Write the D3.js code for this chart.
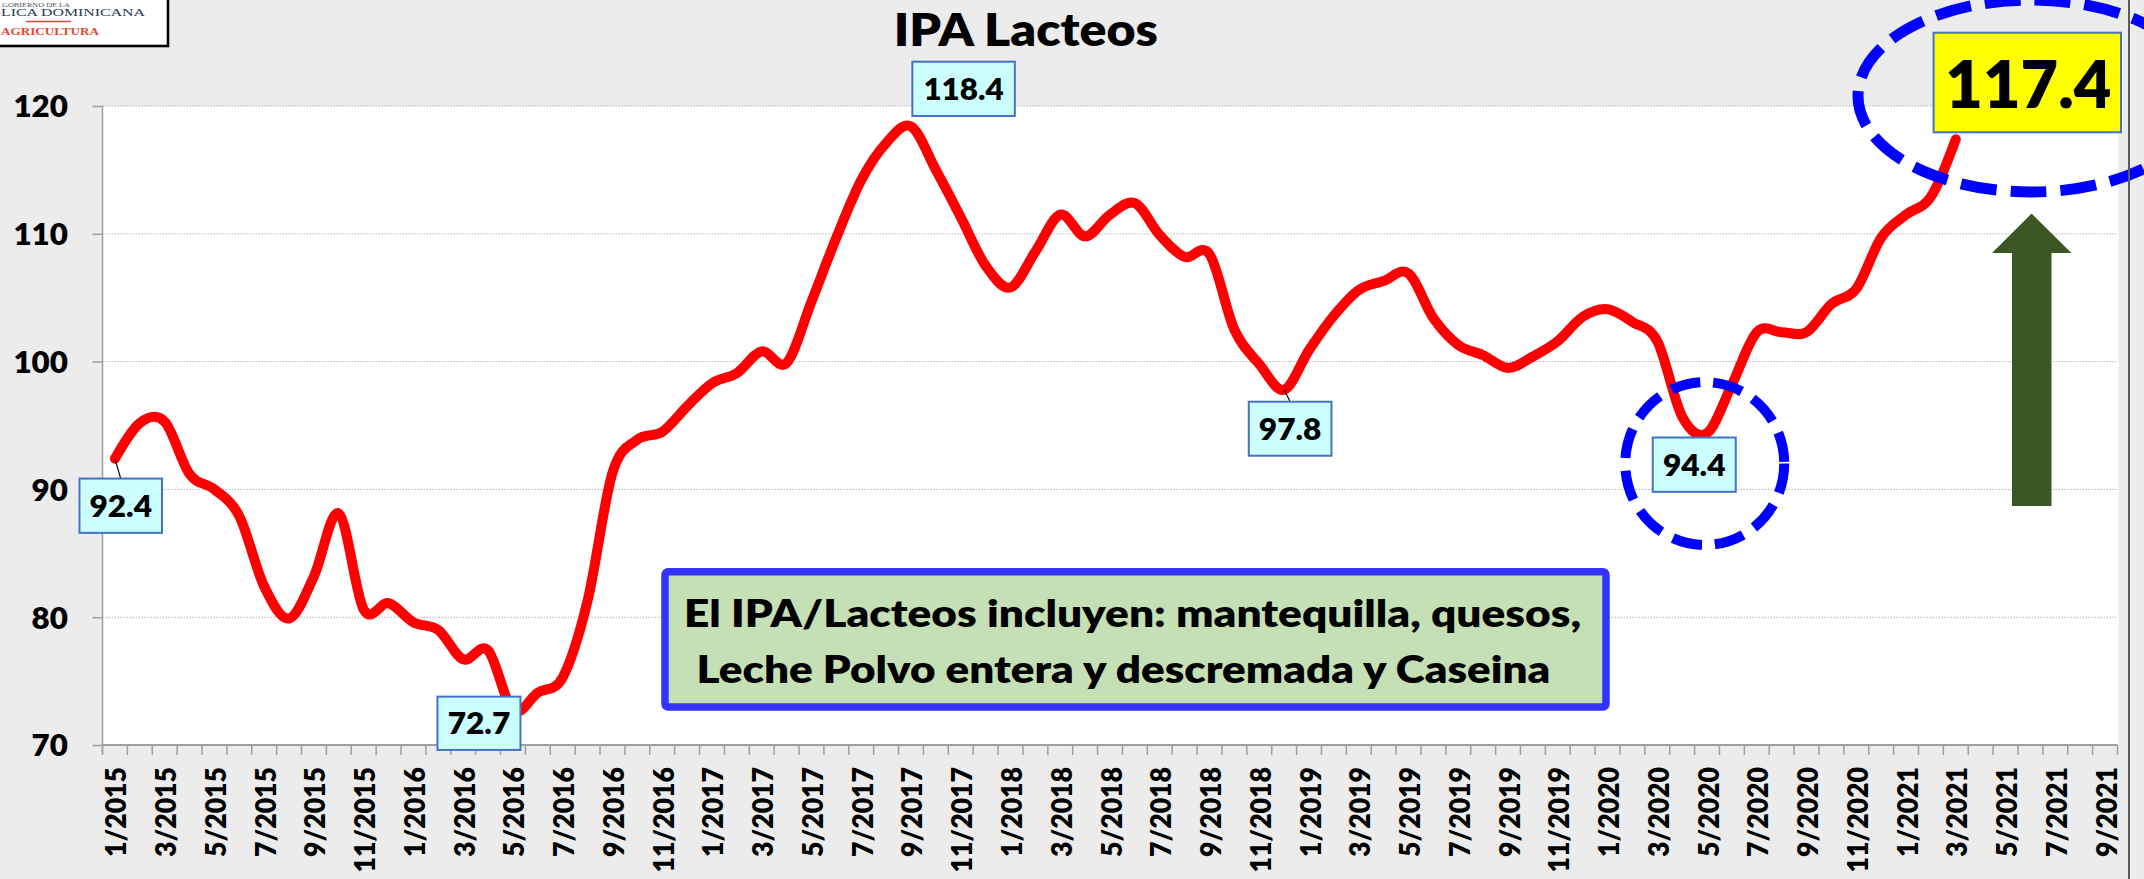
<!DOCTYPE html>
<html><head><meta charset="utf-8">
<script src="https://cdn.jsdelivr.net/npm/d3@7/dist/d3.min.js"></script>
<style>html,body{margin:0;padding:0;background:#ECECEC;overflow:hidden}</style>
</head><body><svg id="c" width="2144" height="879"></svg>
<script>
// ---------------- DATA ----------------
const categories = [
 "1/2015","2/2015","3/2015","4/2015","5/2015","6/2015","7/2015","8/2015","9/2015","10/2015","11/2015","12/2015",
 "1/2016","2/2016","3/2016","4/2016","5/2016","6/2016","7/2016","8/2016","9/2016","10/2016","11/2016","12/2016",
 "1/2017","2/2017","3/2017","4/2017","5/2017","6/2017","7/2017","8/2017","9/2017","10/2017","11/2017","12/2017",
 "1/2018","2/2018","3/2018","4/2018","5/2018","6/2018","7/2018","8/2018","9/2018","10/2018","11/2018","12/2018",
 "1/2019","2/2019","3/2019","4/2019","5/2019","6/2019","7/2019","8/2019","9/2019","10/2019","11/2019","12/2019",
 "1/2020","2/2020","3/2020","4/2020","5/2020","6/2020","7/2020","8/2020","9/2020","10/2020","11/2020","12/2020",
 "1/2021","2/2021","3/2021","4/2021","5/2021","6/2021","7/2021","8/2021","9/2021"
];
const tickLabels = [
 "1/2015","3/2015","5/2015","7/2015","9/2015","11/2015",
 "1/2016","3/2016","5/2016","7/2016","9/2016","11/2016",
 "1/2017","3/2017","5/2017","7/2017","9/2017","11/2017",
 "1/2018","3/2018","5/2018","7/2018","9/2018","11/2018",
 "1/2019","3/2019","5/2019","7/2019","9/2019","11/2019",
 "1/2020","3/2020","5/2020","7/2020","9/2020","11/2020",
 "1/2021","3/2021","5/2021","7/2021","9/2021"
];
const ipaLacteos = [
 92.4, 95.2, 95.3, 91.2, 90.0, 87.9, 82.4, 79.9, 83.2, 88.1, 80.6, 81.1,
 79.6, 79.0, 76.7, 77.4, 72.7, 74.1, 75.3, 81.3, 91.3, 93.9, 94.5, 96.5,
 98.3, 99.1, 100.8, 99.9, 104.7, 109.7, 114.2, 117.1, 118.4, 115.0, 111.3, 107.5,
 105.8, 108.6, 111.5, 109.8, 111.5, 112.4, 109.9, 108.2, 108.4, 102.5, 99.8, 97.8,
 100.9, 103.6, 105.6, 106.3, 106.9, 103.4, 101.3, 100.5, 99.5, 100.4, 101.6, 103.5,
 104.1, 103.1, 101.6, 95.7, 94.4, 98.2, 102.3, 102.3, 102.3, 104.5, 105.7, 109.7,
 111.5, 112.9, 117.4
];
const yTicks = [70, 80, 90, 100, 110, 120];
const labelledIdx = [0, 16, 32, 47, 64, 74];
const titleText = "IPA Lacteos";
const noteLines = ["El IPA/Lacteos incluyen: mantequilla, quesos,", "Leche Polvo entera y descremada y Caseina"];
const logoLines = ["GOBIERNO DE LA", "LICA DOMINICANA", "AGRICULTURA"];

// ---------------- SETUP ----------------
const W = 2144, H = 879;
const svg = d3.select('#c');
const FONT = "Lato, 'Open Sans', sans-serif";
const WT = 800;
// approximate widths of Calibri Bold glyphs (em) to size text like the original
const calW = {'0':.507,'1':.507,'2':.507,'3':.507,'4':.507,'5':.507,'6':.507,'7':.507,'8':.507,'9':.507,'.':.267,'/':.386};
const calLen = (s, fs) => [...s].reduce((a,c)=>a+(calW[c]||.5),0)*fs;

svg.append('rect').attr('width',W).attr('height',H).attr('fill','#ECECEC');

const m = {l:102.5, r:2117.5, t:106, b:745, plotR:2118.5};
const x = d3.scaleBand().domain(categories).range([m.l, m.r]).padding(0);
const cx = i => x(categories[i]) + x.bandwidth()/2;
const y = d3.scaleLinear().domain([70,120]).range([m.b, m.t]);

// plot area
svg.append('rect').attr('x',m.l).attr('y',m.t).attr('width',m.plotR-m.l).attr('height',m.b-m.t).attr('fill','#FFFFFF');

// gridlines
svg.append('g').selectAll('line').data(yTicks.filter(v=>v>70)).join('line')
  .attr('x1',m.l).attr('x2',m.plotR).attr('y1',d=>y(d)).attr('y2',d=>y(d))
  .attr('stroke','#B4B4B4').attr('stroke-width',1).attr('stroke-dasharray','1.5,1.5');

// y axis
const gy = svg.append('g').attr('transform',`translate(${m.l},0)`)
  .call(d3.axisLeft(y).tickValues(yTicks).tickSize(10).tickPadding(24.6).tickFormat(d3.format('d')));
gy.select('.domain').attr('stroke','#A0A0A0').attr('stroke-width',1.5).attr('d',`M0,${m.t}V${m.b+10}`);
gy.selectAll('.tick line').attr('stroke','#A0A0A0').attr('stroke-width',1.5);
gy.selectAll('.tick text').attr('font-family',FONT).attr('font-weight',WT).attr('font-size',30.5)
  .attr('fill','#000').attr('dy','0.36em')
  .attr('textLength',d=>calLen(String(d),35.8)).attr('lengthAdjust','spacingAndGlyphs');

// x axis (labels every 2 months)
const gx = svg.append('g').attr('transform',`translate(0,${m.b})`)
  .call(d3.axisBottom(x).tickValues(tickLabels).tickSize(0));
gx.select('.domain').attr('stroke','#A0A0A0').attr('stroke-width',2).attr('d',`M${m.l},0H${m.r}`);
gx.selectAll('.tick text').attr('font-family',FONT).attr('font-weight',WT).attr('font-size',28)
  .attr('fill','#000').attr('transform','rotate(-90)').attr('text-anchor','end')
  .attr('x',-22).attr('y',11.5).attr('dy',0)
  .attr('textLength',d=>calLen(d,30.8)).attr('lengthAdjust','spacingAndGlyphs');
// monthly tick marks at category boundaries
svg.append('g').selectAll('line').data(categories.map(c=>x(c)).concat([m.r])).join('line')
  .attr('x1',d=>d).attr('x2',d=>d).attr('y1',m.b).attr('y2',m.b+10)
  .attr('stroke','#A0A0A0').attr('stroke-width',1.5);

// data line
const line = d3.line().x((d,i)=>cx(i)).y(d=>y(d)).curve(d3.curveCardinal.tension(0));
svg.append('path').datum(ipaLacteos).attr('d',line).attr('fill','none')
  .attr('stroke','#FF0000').attr('stroke-width',10).attr('stroke-linecap','round').attr('stroke-linejoin','round');

// data labels (box offsets relative to the point)
const labelStyle = {
  0:{dx:5.8,dy:47,w:82.5,h:54.3,lead:true},
  16:{dx:-34,dy:12.8,w:83,h:53.3},
  32:{dx:52.6,dy:-37.6,w:102.5,h:54.3},
  47:{dx:6,dy:39,w:82.7,h:54,lead:true},
  64:{dx:-12.8,dy:31.5,w:83,h:54.3}
};
const gl = svg.append('g');
labelledIdx.filter(i=>labelStyle[i]).forEach(i=>{
  const s = labelStyle[i], px = cx(i), py = y(ipaLacteos[i]);
  const bx = px+s.dx, by = py+s.dy;
  if (s.lead) gl.append('line').attr('x1',px).attr('y1',py).attr('x2',bx).attr('y2',by-s.h/2)
      .attr('stroke','#000').attr('stroke-width',1.2);
  gl.append('rect').attr('x',bx-s.w/2).attr('y',by-s.h/2).attr('width',s.w).attr('height',s.h)
    .attr('fill','#CCFFFF').attr('stroke','#4472C4').attr('stroke-width',2);
  const t = ipaLacteos[i].toFixed(1);
  gl.append('text').attr('x',bx).attr('y',by+11).attr('text-anchor','middle')
    .attr('font-family',FONT).attr('font-weight',WT).attr('font-size',30.5).attr('fill','#000')
    .attr('textLength',calLen(t,35)).attr('lengthAdjust','spacingAndGlyphs').text(t);
});

// note box
const nb = {x:665, y:571.7, w:941, h:135.3};
svg.append('rect').attr('x',nb.x).attr('y',nb.y).attr('width',nb.w).attr('height',nb.h).attr('rx',3)
  .attr('fill','#C5E0B4').attr('stroke','#3333FF').attr('stroke-width',7.5);
svg.append('text').attr('x',684).attr('y',626.7).attr('font-family',FONT).attr('font-weight',WT)
  .attr('font-size',38).attr('fill','#000').attr('textLength',897).attr('lengthAdjust','spacingAndGlyphs').text(noteLines[0]);
svg.append('text').attr('x',696.4).attr('y',683.3).attr('font-family',FONT).attr('font-weight',WT)
  .attr('font-size',38).attr('fill','#000').attr('textLength',854).attr('lengthAdjust','spacingAndGlyphs').text(noteLines[1]);

// dashed ellipse around the 2020 minimum
const minI = 64, lastI = labelledIdx[labelledIdx.length-1];
svg.append('ellipse').attr('cx',cx(minI)-2.3).attr('cy',y(ipaLacteos[minI])+30.4).attr('rx',79.5).attr('ry',81.4)
  .attr('fill','none').attr('stroke','#0000FF').attr('stroke-width',10).attr('stroke-dasharray','30,13');

// green arrow
const ax = 2031.6;
svg.append('path').attr('d',`M${ax},213.5 L${ax+39.8},253 L${ax+19.9},253 L${ax+19.9},506 L${ax-19.6},506 L${ax-19.6},253 L${ax-39.6},253 Z`)
  .attr('fill','#3A5725');

// last value label (yellow)
{
  const px = cx(lastI), py = y(ipaLacteos[lastI]);
  const bx = px+71.5, by = py-56.7, w = 187.4, h = 99.6;
  svg.append('rect').attr('x',bx-w/2).attr('y',by-h/2).attr('width',w).attr('height',h)
    .attr('fill','#FFFF00').attr('stroke','#4472C4').attr('stroke-width',2);
  const t = ipaLacteos[lastI].toFixed(1);
  svg.append('text').attr('x',bx+1).attr('y',by+25.5).attr('text-anchor','middle')
    .attr('font-family',FONT).attr('font-weight',WT).attr('font-size',66.7).attr('fill','#000')
    .attr('textLength',166).attr('lengthAdjust','spacingAndGlyphs').text(t);
}
svg.append('ellipse').attr('cx',2031).attr('cy',96).attr('rx',173).attr('ry',96)
  .attr('fill','none').attr('stroke','#0000FF').attr('stroke-width',11).attr('stroke-dasharray','36,14');

// title
svg.append('text').attr('x',1025.8).attr('y',45.7).attr('text-anchor','middle')
  .attr('font-family',FONT).attr('font-weight',WT).attr('font-size',46).attr('fill','#000')
  .attr('textLength',264).attr('lengthAdjust','spacingAndGlyphs').text(titleText);

// right border
svg.append('line').attr('x1',2129).attr('x2',2129).attr('y1',0).attr('y2',H).attr('stroke','#5A5A5A').attr('stroke-width',2);

// logo (cropped at the page corner)
const lg = svg.append('g');
lg.append('rect').attr('x',-5).attr('y',-5).attr('width',173).attr('height',51).attr('fill','#FFFFFF').attr('stroke','#000').attr('stroke-width',2.6);
lg.append('text').attr('x',2).attr('y',7).attr('font-family',"'Liberation Serif', serif").attr('font-size',6.5).attr('fill','#555')
  .attr('textLength',68).attr('lengthAdjust','spacingAndGlyphs').text(logoLines[0]);
lg.append('text').attr('x',1).attr('y',16).attr('font-family',"'Liberation Serif', serif").attr('font-size',10.5).attr('fill','#2B3A55')
  .attr('textLength',144).attr('lengthAdjust','spacingAndGlyphs').text(logoLines[1]);
lg.append('line').attr('x1',26).attr('x2',71).attr('y1',21.5).attr('y2',21.5).attr('stroke','#E8472F').attr('stroke-width',1.3);
lg.append('text').attr('x',1).attr('y',35).attr('font-family',"'Liberation Serif', serif").attr('font-weight',700).attr('font-size',10.5).attr('fill','#E8472F')
  .attr('textLength',98).attr('lengthAdjust','spacingAndGlyphs').text(logoLines[2]);
</script></body></html>
